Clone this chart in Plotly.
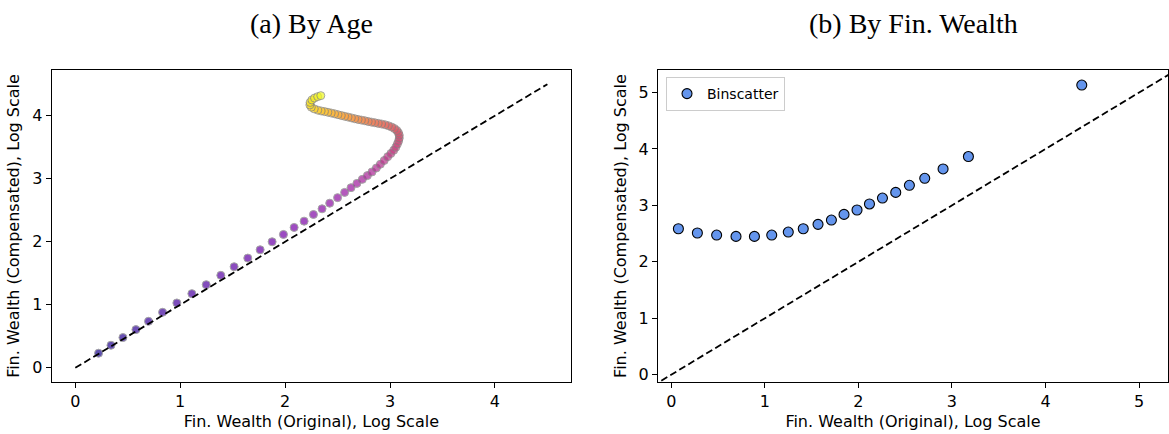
import plotly.graph_objects as go

# ---------------- data ----------------
# (a) By Age: age profile of log fin. wealth, original vs compensated
age_x = [0.222, 0.340, 0.454, 0.578, 0.698, 0.832, 0.968, 1.111, 1.248, 1.387,
         1.514, 1.644, 1.762, 1.876, 1.984, 2.086, 2.181, 2.270, 2.352, 2.425,
         2.500, 2.567, 2.628, 2.684, 2.736, 2.784, 2.828, 2.870, 2.908, 2.945,
         2.978, 3.008, 3.035, 3.055, 3.070, 3.082, 3.088, 3.088, 3.080, 3.065,
         3.042, 3.015, 2.985, 2.953, 2.920, 2.888, 2.856, 2.824, 2.792, 2.760,
         2.728, 2.696, 2.664, 2.632, 2.600, 2.568, 2.536, 2.504, 2.472, 2.440,
         2.408, 2.376, 2.344, 2.312, 2.278, 2.250, 2.236, 2.238, 2.255, 2.280,
         2.310, 2.340]
age_y = [0.232, 0.358, 0.480, 0.606, 0.738, 0.881, 1.029, 1.177, 1.319, 1.467,
         1.604, 1.741, 1.873, 2.000, 2.116, 2.227, 2.327, 2.433, 2.523, 2.612,
         2.700, 2.783, 2.858, 2.926, 2.990, 3.050, 3.108, 3.170, 3.230, 3.290,
         3.350, 3.400, 3.450, 3.500, 3.550, 3.600, 3.645, 3.690, 3.730, 3.765,
         3.795, 3.820, 3.840, 3.856, 3.868, 3.878, 3.888, 3.898, 3.908, 3.920,
         3.930, 3.940, 3.952, 3.965, 3.978, 3.990, 4.003, 4.016, 4.030, 4.042,
         4.054, 4.065, 4.075, 4.088, 4.108, 4.135, 4.170, 4.210, 4.250, 4.280,
         4.302, 4.318]
ages = [25, 26, 27, 28, 29, 30, 31, 32, 33, 34, 35, 36, 37, 38, 39, 40, 41, 42,
        43, 44, 45, 46, 47, 48, 49, 50, 51, 52, 53, 54, 55, 56, 57, 58, 59, 60,
        61, 62, 63, 64, 65, 66, 67, 68, 69, 70, 71, 72, 73, 74, 75, 76, 77, 78,
        79, 80, 81, 82, 83, 84, 85, 86, 87, 88, 89, 90, 91, 92, 93, 94, 95, 96]
diag_a = [0.0, 4.5]

# (b) By Fin. Wealth: binscatter
bin_x = [0.075, 0.278, 0.484, 0.691, 0.888, 1.073, 1.250, 1.410, 1.568, 1.711,
         1.846, 1.985, 2.118, 2.257, 2.399, 2.545, 2.709, 2.905, 3.176, 4.388]
bin_y = [2.586, 2.510, 2.474, 2.450, 2.450, 2.474, 2.527, 2.586, 2.664, 2.740,
         2.840, 2.918, 3.025, 3.130, 3.230, 3.356, 3.480, 3.646, 3.866, 5.133]
diag_b = [-0.3, 5.6]

xlabel = "Fin. Wealth (Original), Log Scale"
ylabel = "Fin. Wealth (Compensated), Log Scale"
titles = ["(a) By Age", "(b) By Fin. Wealth"]

# ---------------- figure ----------------
W, H = 1169, 434
fig = go.Figure()

fig.add_trace(go.Scatter(
    x=age_x, y=age_y, mode="markers", xaxis="x", yaxis="y", showlegend=False,
    marker=dict(size=8, color=ages, colorscale="Plasma", cmin=ages[0] - 2, cmax=ages[-1],
                opacity=0.7, line=dict(color="#808080", width=1)),
))
fig.add_trace(go.Scatter(
    x=diag_a, y=diag_a, mode="lines", xaxis="x", yaxis="y", showlegend=False,
    line=dict(color="black", width=1.8, dash="7px,3.5px"),
))
fig.add_trace(go.Scatter(
    x=bin_x, y=bin_y, mode="markers", xaxis="x2", yaxis="y2", name="Binscatter",
    marker=dict(size=10, color="#6495ED", line=dict(color="black", width=1.1)),
))
fig.add_trace(go.Scatter(
    x=diag_b, y=diag_b, mode="lines", xaxis="x2", yaxis="y2", showlegend=False,
    line=dict(color="black", width=1.8, dash="7px,3.5px"),
))

tickfont = dict(family="DejaVu Sans", size=16, color="black")
titlefont = dict(family="DejaVu Sans", size=16, color="black")

def ax(domain, rng, anchor, title, standoff):
    return dict(domain=domain, range=rng, anchor=anchor, showline=True, linecolor="black",
                linewidth=1, mirror=True, ticks="outside", ticklen=5, tickwidth=1,
                tickcolor="black", dtick=1, tick0=0, showgrid=False, zeroline=False,
                tickfont=tickfont, title=dict(text=title, font=titlefont, standoff=standoff),
                automargin=False, fixedrange=True)

yb0, yb1 = 1 - 382 / H, 1 - 70 / H
fig.update_layout(
    width=W, height=H, margin=dict(l=0, r=0, t=0, b=0),
    paper_bgcolor="white", plot_bgcolor="white",
    xaxis=ax([51.7 / W, 571 / W], [-0.225, 4.725], "y", xlabel, 5),
    yaxis=ax([yb0, yb1], [-0.225, 4.725], "x", ylabel, 8),
    xaxis2=ax([658 / W, 1168 / W], [-0.143, 5.31], "y2", xlabel, 5),
    yaxis2=ax([yb0, yb1], [-0.131, 5.40], "x2", ylabel, 8),
    legend=dict(x=666 / W, y=1 - 77 / H, xanchor="left", yanchor="top",
                bgcolor="white", bordercolor="#cccccc", borderwidth=1,
                font=dict(family="DejaVu Sans", size=14, color="black")),
    annotations=[
        dict(text=titles[0], x=(51.7 + 571) / 2 / W, y=1 - 23 / H, xref="paper", yref="paper",
             xanchor="center", yanchor="middle", showarrow=False,
             font=dict(family="Liberation Serif", size=28, color="black")),
        dict(text=titles[1], x=(658 + 1168) / 2 / W, y=1 - 23 / H, xref="paper", yref="paper",
             xanchor="center", yanchor="middle", showarrow=False,
             font=dict(family="Liberation Serif", size=28, color="black")),
    ],
)

fig.write_html("out.html")
